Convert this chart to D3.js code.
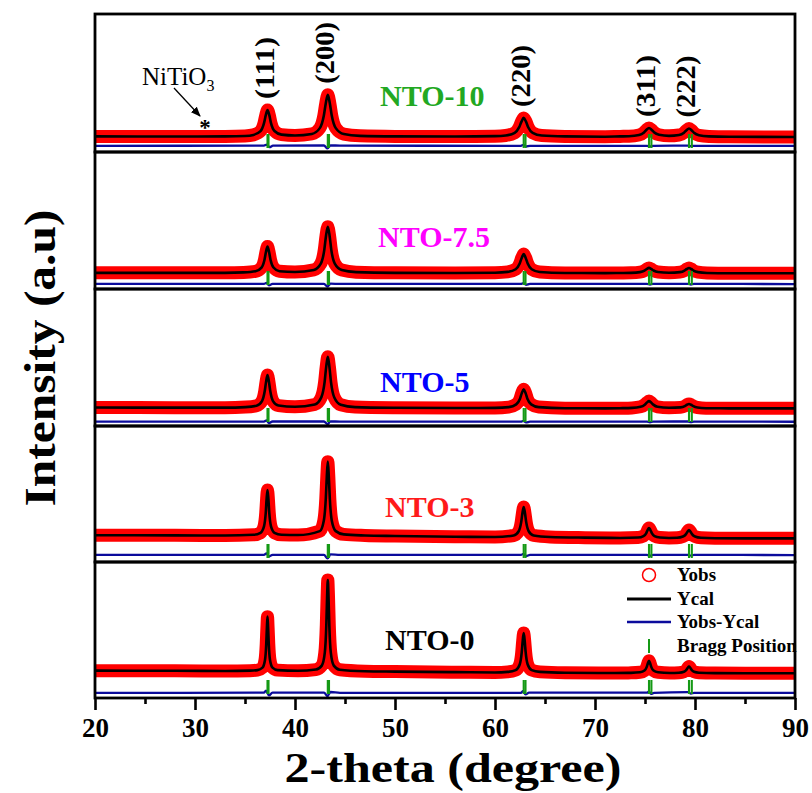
<!DOCTYPE html>
<html>
<head>
<meta charset="utf-8">
<script src="https://cdn.jsdelivr.net/npm/d3@7"></script>
<style>
  body { margin: 0; background: #fff; }
  svg { display: block; font-family: "Liberation Serif", "Times New Roman", serif; }
</style>
</head>
<body>
<svg id="chart" width="812" height="793"></svg>
<script>
// ---- data -------------------------------------------------------------
const samples = ["NTO-10", "NTO-7.5", "NTO-5", "NTO-3", "NTO-0"];
const sampleColors = ["#22a822", "#ff00ff", "#0000ff", "#ff1a1a", "#000000"];

// Observed / calculated profiles, [2θ (deg), intensity (a.u., 0-100 per panel)]
const profileNTO10 = [[20,11.3],[28,11.2],[33,11.3],[35.0,11.6],[35.85,12.4],[36.55,15.1],[36.9,20.9],[37.08,26.7],[37.25,30.4],[37.43,26.7],[37.6,20.9],[37.95,15.2],[38.65,12.6],[40.0,12.0],[41.68,13.1],[42.48,17.3],[42.88,26.3],[43.08,35.4],[43.28,41.4],[43.48,35.4],[43.68,26.3],[44.08,17.3],[44.88,13.0],[46.5,11.7],[50,11.3],[56,11.2],[60,11.5],[61.07,12.0],[61.97,13.9],[62.42,18.0],[62.65,22.0],[62.87,24.7],[63.1,22.0],[63.32,17.9],[63.77,13.8],[64.67,11.9],[67,11.3],[71,11.1],[72.5,11.3],[73.4,11.4],[74.4,12.3],[74.9,14.2],[75.15,16.1],[75.4,17.4],[75.65,16.2],[75.9,14.3],[76.4,12.5],[77.4,11.7],[78.4,12.3],[78.9,14.0],[79.15,15.8],[79.4,17.0],[79.65,15.8],[79.9,13.9],[80.4,12.1],[81.4,11.3],[83.4,11.0],[90,10.9]];
const profileNTO75 = [[20,11.8],[28,11.8],[33,11.8],[34.85,12.1],[36.05,12.9],[36.65,15.6],[36.95,21.4],[37.1,27.2],[37.25,31.0],[37.4,27.2],[37.55,21.4],[37.85,15.7],[38.45,13.0],[40.0,12.4],[41.88,13.9],[42.58,18.5],[42.93,28.6],[43.1,38.7],[43.28,45.4],[43.46,38.7],[43.63,28.6],[43.98,18.5],[44.68,13.8],[46.1,12.3],[50,11.8],[56,11.7],[60,11.9],[61.27,12.5],[62.07,14.4],[62.47,18.6],[62.67,22.7],[62.87,25.5],[63.07,22.7],[63.27,18.6],[63.67,14.4],[64.47,12.4],[67,11.7],[71,11.6],[72.5,11.7],[73.6,11.8],[74.5,12.3],[74.95,13.4],[75.18,14.6],[75.4,15.4],[75.62,14.6],[75.85,13.5],[76.3,12.4],[77.4,11.9],[78.5,12.3],[78.95,13.4],[79.18,14.6],[79.4,15.3],[79.62,14.6],[79.85,13.4],[80.3,12.3],[81.2,11.7],[83.4,11.5],[90,11.5]];
const profileNTO5 = [[20,13.5],[28,13.4],[33,13.4],[35.05,13.8],[36.15,14.8],[36.7,18.2],[36.97,25.3],[37.11,32.4],[37.25,37.2],[37.39,32.4],[37.53,25.3],[37.8,18.2],[38.35,14.9],[40.0,14.0],[41.98,15.7],[42.63,20.9],[42.96,32.0],[43.12,43.2],[43.28,50.6],[43.44,43.2],[43.6,32.0],[43.93,20.8],[44.58,15.5],[46.0,13.8],[50,13.3],[56,13.1],[60,13.2],[61.37,13.8],[62.12,15.8],[62.5,19.9],[62.68,24.0],[62.87,26.8],[63.06,24.0],[63.24,19.9],[63.62,15.8],[64.37,13.8],[67,13.0],[71,12.9],[72.5,13.0],[73.7,13.2],[74.55,14.0],[74.98,15.6],[75.19,17.1],[75.4,18.2],[75.61,17.1],[75.83,15.6],[76.25,14.0],[77.4,13.3],[78.55,13.6],[78.98,14.5],[79.19,15.5],[79.4,16.1],[79.61,15.5],[79.83,14.5],[80.25,13.5],[81.1,13.0],[83.4,12.9],[90,12.9]];
const profileNTO3 = [[20,19.7],[28,19.6],[33,19.5],[35.85,20.0],[36.55,21.5],[36.9,26.2],[37.075,36.2],[37.16,46.2],[37.25,52.9],[37.34,46.2],[37.425,36.2],[37.6,26.2],[37.95,21.5],[38.65,20.0],[40.3,19.8],[42.48,22.7],[42.88,30.4],[43.08,46.7],[43.18,62.9],[43.28,73.8],[43.38,62.9],[43.48,46.7],[43.68,30.4],[44.08,22.7],[44.88,20.3],[47,19.5],[50,19.1],[56,18.6],[60,18.4],[61.87,19.5],[62.37,22.6],[62.62,29.3],[62.745,36.0],[62.87,40.4],[62.995,36.0],[63.12,29.3],[63.37,22.6],[63.87,19.5],[65.5,18.4],[69,17.9],[72.5,17.7],[74.3,18.0],[74.85,19.1],[75.13,21.3],[75.26,23.5],[75.4,25.0],[75.54,23.5],[75.68,21.3],[75.95,19.1],[76.5,18.0],[77.4,17.7],[78.2,17.8],[78.8,18.7],[79.1,20.5],[79.25,22.3],[79.4,23.5],[79.55,22.3],[79.7,20.5],[80.0,18.7],[80.6,17.8],[82,17.5],[85,17.4],[90,17.4]];
const profileNTO0 = [[20,20.1],[28,20.0],[33,19.9],[35.5,20.1],[36.25,20.5],[36.75,22.3],[37.0,27.9],[37.125,39.9],[37.19,51.8],[37.25,59.8],[37.31,51.8],[37.375,39.9],[37.5,27.9],[37.75,22.3],[38.25,20.5],[40.3,20.0],[42.08,20.9],[42.68,23.8],[42.98,33.3],[43.13,53.4],[43.205,73.4],[43.28,86.8],[43.355,73.4],[43.43,53.4],[43.58,33.3],[43.88,23.8],[44.48,20.8],[47,19.7],[50,19.4],[56,19.0],[60,18.8],[61.27,19.2],[62.07,20.5],[62.47,24.6],[62.67,33.3],[62.77,42.0],[62.87,47.8],[62.97,42.0],[63.07,33.3],[63.27,24.6],[63.67,20.5],[64.5,19.2],[67,18.6],[72,18.4],[73.6,18.5],[74.5,18.9],[74.95,20.2],[75.175,22.9],[75.29,25.6],[75.4,27.4],[75.51,25.6],[75.625,22.9],[75.85,20.2],[76.3,18.9],[77.5,18.4],[78.4,18.6],[78.9,19.3],[79.15,20.8],[79.275,22.2],[79.4,23.1],[79.525,22.2],[79.65,20.8],[79.9,19.3],[80.4,18.6],[82,18.3],[85,18.2],[90,18.2]];

// Difference curves (Yobs - Ycal, shifted below each pattern)
const diffNTO10 = [[20,4.5],[36.9,4.6],[37.2,5.4],[37.45,3.5],[37.8,4.6],[42.9,4.7],[43.25,2.6],[43.55,4.8],[44.5,4.6],[62.6,4.5],[62.85,5.2],[63.1,4.0],[63.5,4.5],[75.2,4.5],[75.5,4.0],[75.8,4.5],[79.3,4.6],[79.6,4.2],[79.9,4.5],[90,4.5]];
const diffNTO75 = [[20,3.7],[36.9,3.7],[37.15,4.5],[37.4,2.6],[37.75,3.8],[42.9,3.8],[43.25,1.8],[43.55,3.9],[44.5,3.7],[62.6,3.7],[62.85,4.3],[63.1,3.1],[63.5,3.7],[75.2,3.7],[75.5,3.2],[75.8,3.7],[79.3,3.8],[79.6,3.3],[79.9,3.7],[90,3.6]];
const diffNTO5 = [[20,3.2],[36.9,3.2],[37.15,4.0],[37.4,2.1],[37.75,3.3],[42.9,3.3],[43.25,1.4],[43.55,3.4],[44.5,3.2],[62.6,3.2],[62.85,3.8],[63.1,2.6],[63.5,3.2],[75.2,3.2],[75.5,2.7],[75.8,3.2],[79.3,3.3],[79.6,2.8],[79.9,3.2],[90,3.1]];
const diffNTO3 = [[20,5.2],[36.9,5.3],[37.15,6.4],[37.4,4.0],[37.75,5.3],[42.9,5.3],[43.25,2.6],[43.55,5.6],[44.5,5.2],[62.6,5.2],[62.85,6.0],[63.1,4.4],[63.5,5.2],[75.2,5.2],[75.5,4.6],[75.8,5.2],[79.3,5.3],[79.6,4.7],[79.9,5.2],[90,5.1]];
const diffNTO0 = [[20,3.8],[36.9,3.9],[37.1,5.4],[37.4,1.9],[37.75,4.0],[42.9,4.0],[43.25,1.4],[43.55,4.4],[44.5,3.8],[62.6,3.8],[62.8,5.0],[63.05,2.6],[63.4,3.9],[75.2,3.9],[75.4,4.8],[75.6,3.0],[75.9,3.8],[79.3,4.3],[79.6,3.2],[79.9,3.8],[90,3.7]];

// Bragg reflections of cubic NiO (Kα1 / Kα2 pairs)
const braggPositions = [37.25, 37.35, 43.28, 43.40, 62.87, 63.05, 75.40, 75.64, 79.40, 79.68];
const hklLabels = ["(111)", "(200)", "(220)", "(311)", "(222)"];
const hklPositions = [37.25, 43.28, 62.87, 75.40, 79.40];
const impurityAngle = 31.0;   // NiTiO3 reflection

const xMajorTicks = [20, 30, 40, 50, 60, 70, 80, 90];
const xMinorTicks = [25, 35, 45, 55, 65, 75, 85];
const legendItems = ["Yobs", "Ycal", "Yobs-Ycal", "Bragg Position"];

const profiles = [profileNTO10, profileNTO75, profileNTO5, profileNTO3, profileNTO0];
const diffs = [diffNTO10, diffNTO75, diffNTO5, diffNTO3, diffNTO0];

// ---- layout ------------------------------------------------------------
const panelEdges = [14, 152, 289, 426, 562, 698];
const labelX = [380, 378, 380, 385, 385];
const labelBaseline = [106, 247, 392, 517, 650];

const svg = d3.select("#chart");
const x = d3.scaleLinear().domain([20, 90]).range([95, 795]);
const defs = svg.append("defs");

defs.append("marker")
  .attr("id", "arrowHead").attr("viewBox", "0 0 10 10")
  .attr("refX", 9).attr("refY", 5)
  .attr("markerWidth", 10).attr("markerHeight", 10)
  .attr("markerUnits", "userSpaceOnUse")
  .attr("orient", "auto")
  .append("path").attr("d", "M0,1 L10,5 L0,9 Z").attr("fill", "#000");

const yScales = [];

samples.forEach((name, i) => {
  const top = panelEdges[i], bottom = panelEdges[i + 1];
  const y = d3.scaleLinear().domain([0, 100]).range([bottom, top]);
  yScales.push(y);

  defs.append("clipPath").attr("id", "clip" + i)
    .append("rect")
    .attr("x", x(20)).attr("y", top)
    .attr("width", x(90) - x(20)).attr("height", bottom - top);

  const line = d3.line()
    .x(d => x(d[0])).y(d => y(d[1]))
    .curve(d3.curveMonotoneX);

  const g = svg.append("g").attr("clip-path", `url(#clip${i})`);

  // Yobs: dense open circles rendered as a thick red band
  g.append("path").datum(profiles[i])
    .attr("d", line).attr("fill", "none")
    .attr("stroke", "#ff0000").attr("stroke-width", 13)
    .attr("stroke-linejoin", "round");

  // Ycal
  g.append("path").datum(profiles[i])
    .attr("d", line).attr("fill", "none")
    .attr("stroke", "#000").attr("stroke-width", 2.6)
    .attr("stroke-linejoin", "round");

  // Yobs - Ycal
  g.append("path").datum(diffs[i])
    .attr("d", line).attr("fill", "none")
    .attr("stroke", "#0b0b9c").attr("stroke-width", 2.3);

  // Bragg positions
  g.selectAll("line.bragg").data(braggPositions).join("line")
    .attr("class", "bragg")
    .attr("x1", d => x(d)).attr("x2", d => x(d))
    .attr("y1", bottom - 18).attr("y2", bottom - 4)
    .attr("stroke", "#159915").attr("stroke-width", 2.1);

  // panel frame
  svg.append("rect")
    .attr("x", x(20)).attr("y", top)
    .attr("width", x(90) - x(20)).attr("height", bottom - top)
    .attr("fill", "none").attr("stroke", "#000").attr("stroke-width", 2.8);

  // sample name
  svg.append("text")
    .attr("x", labelX[i]).attr("y", labelBaseline[i])
    .attr("font-size", 30).attr("font-weight", "bold")
    .attr("fill", sampleColors[i])
    .text(name);
});

// ---- Miller indices above the top pattern ------------------------------
const yTop = yScales[0];
hklLabels.forEach((lab, k) => {
  const pos = hklPositions[k];
  const peak = d3.max(profileNTO10.filter(d => Math.abs(d[0] - pos) < 0.3), d => d[1]);
  const px = x(pos) + 6, py = yTop(peak) - 11;
  svg.append("text")
    .attr("transform", `translate(${px},${py}) rotate(-90)`)
    .attr("font-size", 27).attr("font-weight", "bold")
    .attr("text-anchor", "start")
    .attr("textLength", 62).attr("lengthAdjust", "spacingAndGlyphs")
    .text(lab);
});

// NiTiO3 impurity marker
const impX = x(impurityAngle);
const impLabel = svg.append("text")
  .attr("x", impX - 63).attr("y", 85)
  .attr("font-size", 25);
impLabel.append("tspan").text("NiTiO");
impLabel.append("tspan").attr("font-size", 16).attr("dy", 6).text("3");

svg.append("line")
  .attr("x1", impX - 31).attr("y1", 88)
  .attr("x2", impX - 5).attr("y2", 116)
  .attr("stroke", "#000").attr("stroke-width", 1.3)
  .attr("marker-end", "url(#arrowHead)");

svg.append("text")
  .attr("x", impX).attr("y", 135)
  .attr("text-anchor", "middle")
  .attr("font-size", 23).attr("font-weight", "bold")
  .text("*");

// ---- bottom axis --------------------------------------------------------
const axisY = panelEdges[5];
const xAxis = svg.append("g")
  .attr("transform", `translate(0,${axisY})`)
  .call(d3.axisBottom(x).tickValues(xMajorTicks).tickSize(12).tickPadding(8).tickFormat(d3.format("d")));
xAxis.select(".domain").remove();
xAxis.selectAll(".tick line").attr("stroke", "#000").attr("stroke-width", 2.6);
xAxis.selectAll(".tick text")
  .attr("font-family", "'Liberation Serif','Times New Roman',serif")
  .attr("font-size", 27).attr("font-weight", "bold").attr("fill", "#000");

const xMinor = svg.append("g")
  .attr("transform", `translate(0,${axisY})`)
  .call(d3.axisBottom(x).tickValues(xMinorTicks).tickSize(6).tickFormat(""));
xMinor.select(".domain").remove();
xMinor.selectAll(".tick line").attr("stroke", "#000").attr("stroke-width", 2.6);

// axis titles
svg.append("text")
  .attr("x", 453).attr("y", 782)
  .attr("text-anchor", "middle")
  .attr("font-size", 43).attr("font-weight", "bold")
  .attr("textLength", 337).attr("lengthAdjust", "spacingAndGlyphs")
  .text("2-theta (degree)");

svg.append("text")
  .attr("transform", "translate(55,358) rotate(-90)")
  .attr("text-anchor", "middle")
  .attr("font-size", 45).attr("font-weight", "bold")
  .attr("textLength", 297).attr("lengthAdjust", "spacingAndGlyphs")
  .text("Intensity (a.u)");

// ---- legend -------------------------------------------------------------
const legend = svg.append("g").attr("font-size", 19).attr("font-weight", "bold");
const legRows = [575, 599, 622, 646];
legend.append("circle").attr("cx", 649).attr("cy", legRows[0]).attr("r", 6.5)
  .attr("fill", "#fff").attr("stroke", "#ff0000").attr("stroke-width", 1.5);
legend.append("line").attr("x1", 627).attr("x2", 671).attr("y1", legRows[1]).attr("y2", legRows[1])
  .attr("stroke", "#000").attr("stroke-width", 3);
legend.append("line").attr("x1", 627).attr("x2", 671).attr("y1", legRows[2]).attr("y2", legRows[2])
  .attr("stroke", "#0b0b9c").attr("stroke-width", 2.5);
legend.append("line").attr("x1", 649).attr("x2", 649).attr("y1", 639).attr("y2", 653)
  .attr("stroke", "#159915").attr("stroke-width", 2);
legend.selectAll("text.item").data(legendItems).join("text")
  .attr("class", "item")
  .attr("x", 677).attr("y", (d, k) => legRows[k] + 6)
  .text(d => d);
</script>
</body>
</html>
